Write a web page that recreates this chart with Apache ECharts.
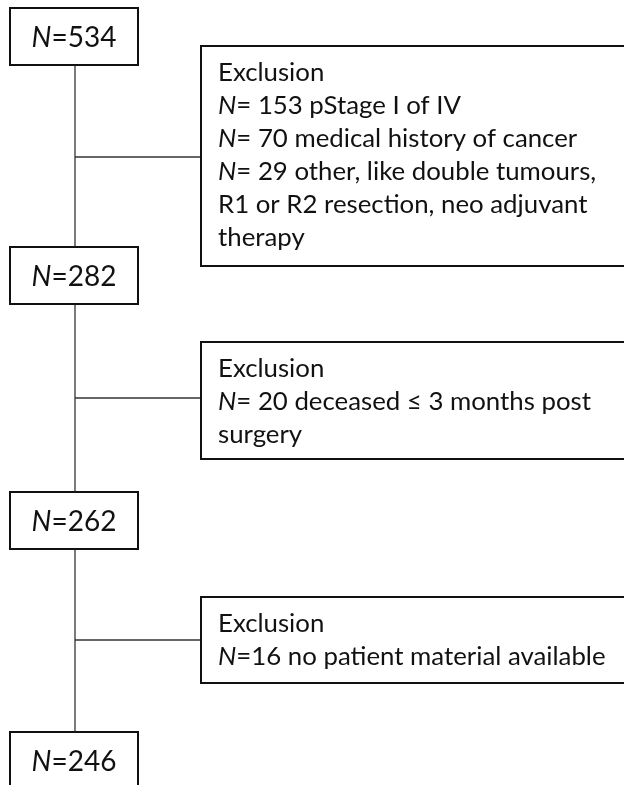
<!DOCTYPE html>
<html><head><meta charset="utf-8">
<script src="https://cdn.jsdelivr.net/npm/echarts@6/dist/echarts.min.js"></script>
<style>html,body{margin:0;padding:0;background:#fff}#c{width:624px;height:785px}</style>
</head><body><div id="c"></div>
<script>
// ---- data ----
const stageCounts = ['534', '282', '262', '246'];
const exclusionLines = [
  ['Exclusion', '{i|N}= 153 pStage I of IV', '{i|N}= 70 medical history of cancer', '{i|N}= 29 other, like double tumours,', 'R1 or R2 resection, neo adjuvant', 'therapy'],
  ['Exclusion', '{i|N}= 20 deceased \u2264 3 months post', 'surgery'],
  ['Exclusion', '{i|N}=16 no patient material available']
];

// ---- layout (pixel-space of a hidden 624x785 grid) ----
const trunkX = 75;
const mainBox = { x0: 10, x1: 138, h: 57 };
const mainTops = [8, 247, 492, 732];
const exBox = { x0: 201, x1: 628 };
const exSpans = [[46, 266], [342, 459], [597, 683]];
const connY = [157, 398, 640];

const FONT = 'Lato, "Open Sans", sans-serif';
const EXS = 25.8;
const rich = { i: { fontStyle: 'italic', fontFamily: FONT, fontSize: EXS, color: '#111' } };
const richBig = { i: { fontStyle: 'italic', fontFamily: FONT, fontSize: 28, color: '#111' } };

const chart = echarts.init(document.getElementById('c'), null, { renderer: 'canvas' });

const mainData = stageCounts.map((c, k) => [mainBox.x0, mainTops[k], mainBox.x1, mainTops[k] + mainBox.h, c]);
const exData = exclusionLines.map((lines, k) => [exBox.x0, exSpans[k][0], exBox.x1, exSpans[k][1], lines.join('\n')]);
const lineData = [[trunkX, mainTops[0], trunkX, mainTops[3]]].concat(connY.map(y => [trunkX, y, exBox.x0, y]));

function boxRender(big) {
  return function (params, api) {
    const p0 = api.coord([api.value(0), api.value(1)]);
    const p1 = api.coord([api.value(2), api.value(3)]);
    const label = big ? '{i|N}=' + stageCounts[params.dataIndex] : exclusionLines[params.dataIndex].join('\n');
    const rect = { type: 'rect', shape: { x: p0[0], y: p0[1], width: p1[0] - p0[0], height: p1[1] - p0[1] },
      style: { fill: '#fff', stroke: '#111', lineWidth: 2 } };
    const text = big ? {
      type: 'text', x: (p0[0] + p1[0]) / 2, y: (p0[1] + p1[1]) / 2 + 1,
      style: { text: label, rich: richBig, fontFamily: FONT, fontSize: 28, fill: '#111', align: 'center', verticalAlign: 'middle' }
    } : {
      type: 'text', x: p0[0] + 17, y: p0[1] + 10,
      style: { text: label, rich: rich, fontFamily: FONT, fontSize: EXS, lineHeight: 33, fill: '#111', align: 'left', verticalAlign: 'top' }
    };
    return { type: 'group', children: [rect, text] };
  };
}

chart.setOption({
  animation: false,
  grid: { left: 0, right: 0, top: 0, bottom: 0 },
  xAxis: { type: 'value', min: 0, max: 624, show: false },
  yAxis: { type: 'value', min: 0, max: 785, inverse: true, show: false },
  series: [
    { type: 'custom', data: lineData, z: 1, clip: false,
      renderItem: function (params, api) {
        const a = api.coord([api.value(0), api.value(1)]);
        const b = api.coord([api.value(2), api.value(3)]);
        return { type: 'line', shape: { x1: a[0], y1: a[1], x2: b[0], y2: b[1] }, style: { stroke: '#333', lineWidth: 1.3 } };
      } },
    { type: 'custom', data: exData, z: 2, clip: false, renderItem: boxRender(false) },
    { type: 'custom', data: mainData, z: 3, clip: false, renderItem: boxRender(true) }
  ]
});
</script></body></html>
